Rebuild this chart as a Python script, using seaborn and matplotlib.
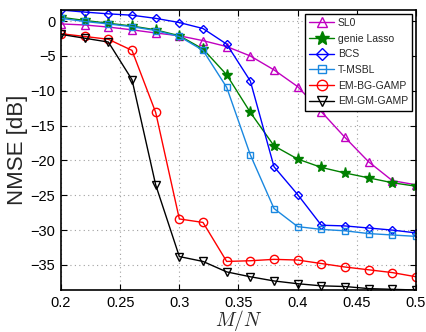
import numpy as np
import pandas as pd
import matplotlib
matplotlib.use("Agg")
import matplotlib.pyplot as plt
import seaborn as sns

# ---- data ----
m_over_n = [0.20, 0.22, 0.24, 0.26, 0.28, 0.30, 0.32, 0.34, 0.36, 0.38,
            0.40, 0.42, 0.44, 0.46, 0.48, 0.50]

sl0 = [-0.4, -0.55, -0.85, -1.25, -1.7, -2.1, -2.8, -3.65, -5.0, -7.0,
       -9.4, -13.0, -16.7, -20.2, -22.9, -23.5]
genie_lasso = [0.55, 0.1, -0.3, -0.7, -1.25, -2.1, -4.0, -7.7, -13.1, -17.9,
               -19.8, -21.0, -21.8, -22.5, -23.2, -23.7]
bcs = [1.6, 1.3, 1.05, 0.85, 0.4, -0.2, -1.06, -3.3, -8.6, -20.9,
       -24.9, -29.3, -29.4, -29.7, -30.0, -30.4]
t_msbl = [0.4, -0.05, -0.4, -0.8, -1.35, -2.2, -4.2, -9.5, -19.2, -26.9,
          -29.5, -29.9, -30.1, -30.5, -30.7, -30.9]
em_bg_gamp = [-1.8, -2.2, -2.6, -4.2, -13.1, -28.4, -28.9, -34.5, -34.4, -34.2,
              -34.3, -34.8, -35.3, -35.7, -36.1, -36.7]
em_gm_gamp = [-1.9, -2.45, -3.0, -8.4, -23.5, -33.8, -34.5, -36.0, -36.7, -37.3,
              -37.7, -38.0, -38.1, -38.4, -38.5, -38.6]

series_names = ["SL0", "genie Lasso", "BCS", "T-MSBL", "EM-BG-GAMP", "EM-GM-GAMP"]
series_values = [sl0, genie_lasso, bcs, t_msbl, em_bg_gamp, em_gm_gamp]
x_ticks = [0.2, 0.25, 0.3, 0.35, 0.4, 0.45, 0.5]
x_tick_labels = ["0.2", "0.25", "0.3", "0.35", "0.4", "0.45", "0.5"]
y_ticks = [-35, -30, -25, -20, -15, -10, -5, 0]
y_tick_labels = ["\u221235", "\u221230", "\u221225", "\u221220", "\u221215", "\u221210", "\u22125", "0"]

# ---- styles ----
colors = ["#C000C0", "#008000", "#0000FF", "#1A88E0", "#FF0000", "#000000"]
markers = ["^", "*", "D", "s", "o", "v"]
msizes = [6, 8, 4.5, 5, 6, 6]
filled = [False, True, False, False, False, False]

sns.set_style("ticks")
plt.rcParams["font.family"] = ["Liberation Sans", "DejaVu Sans"]
plt.rcParams["mathtext.fontset"] = "cm"

fig = plt.figure(figsize=(4.27, 3.32), dpi=100)
ax = fig.add_axes([61 / 427, 1 - 290 / 332, 355 / 427, 280 / 332])

for name, vals, c, mk, ms, fl in zip(series_names, series_values, colors, markers, msizes, filled):
    df = pd.DataFrame({"M/N": m_over_n, "NMSE": vals})
    sns.lineplot(data=df, x="M/N", y="NMSE", ax=ax, color=c, marker=mk,
                 markersize=ms, markerfacecolor=(c if fl else "none"),
                 markeredgecolor=c, markeredgewidth=1.0, linewidth=1.0,
                 label=name)

ax.set_xlim(0.2, 0.5)
ax.set_ylim(-38.6, 1.6)
ax.set_xticks(x_ticks)
ax.set_xticklabels(x_tick_labels)
ax.set_yticks(y_ticks)
ax.set_yticklabels(y_tick_labels)
ax.tick_params(direction="in", top=True, right=True, labelsize=10.5,
               length=4, width=0.8, colors="black", pad=4)
ax.grid(True, linestyle=(0, (1, 3)), color="#A0A0A0", linewidth=0.8)
for sp in ax.spines.values():
    sp.set_visible(True)
    sp.set_color("black")
    sp.set_linewidth(1.2)

ax.set_xlabel("$M/N$", fontsize=14, labelpad=-1)
ax.set_ylabel("NMSE [dB]", fontsize=16, labelpad=2)

leg = ax.legend(loc="upper right", fontsize=7.5, frameon=True, fancybox=False,
                edgecolor="black", framealpha=1, borderaxespad=0.35,
                handlelength=2.4, handletextpad=0.35, labelspacing=0.55,
                borderpad=0.4, markerscale=1.25)
leg.get_frame().set_linewidth(1.0)

fig.savefig("out.png", dpi=100)
